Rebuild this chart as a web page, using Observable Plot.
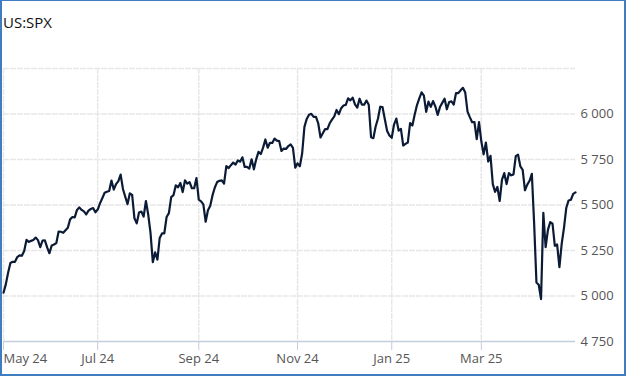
<!DOCTYPE html>
<html>
<head>
<meta charset="utf-8">
<script src="https://cdn.jsdelivr.net/npm/d3@7"></script>
<script src="https://cdn.jsdelivr.net/npm/@observablehq/plot@0.6"></script>
<style>
  html, body { margin: 0; padding: 0; background: #fff; }
  #wrap { position: relative; width: 626px; height: 376px; overflow: hidden; background: #fff; }
  #title { position: absolute; left: 3px; top: 12px; font-family: "Open Sans", sans-serif; font-size: 15px; color: #111; z-index: 2; }
  #frame { position: absolute; left: 0; top: 0; width: 626px; height: 376px; box-sizing: border-box; border: 2px solid #3f7cc0; border-top-width: 1px; pointer-events: none; z-index: 3; }
  #chart { position: absolute; left: 0; top: 0; }
</style>
</head>
<body>
<div id="wrap">
  <div id="title">US:SPX</div>
  <div id="chart"></div>
  <div id="frame"></div>
</div>
<script>
// Daily closes, one array per month (trading days)
const may24 = [5018,5064,5128,5181,5188,5188,5214,5223,5221,5247,5308,5297,5303,5308,5321,5307,5268,5305,5306,5267,5235,5278];
const jun24 = [5283,5291,5354,5353,5347,5361,5375,5421,5434,5432,5473,5487,5473,5465,5448,5469,5478,5483,5460];
const jul24 = [5475,5509,5537,5567,5573,5577,5634,5585,5615,5631,5667,5588,5545,5505,5564,5556,5427,5399,5459,5464,5436,5522];
const aug24 = [5447,5347,5186,5240,5200,5319,5344,5344,5434,5455,5543,5554,5608,5597,5621,5571,5635,5617,5626,5592,5592,5648];
const sep24 = [5529,5520,5503,5408,5471,5496,5554,5596,5626,5633,5635,5618,5714,5703,5719,5733,5722,5745,5738,5762];
const oct24 = [5709,5710,5700,5751,5696,5751,5792,5780,5815,5860,5815,5842,5841,5865,5854,5851,5797,5810,5808,5824,5833,5814,5705];
const nov24 = [5729,5713,5783,5929,5973,5996,6001,5984,5985,5949,5871,5894,5917,5917,5949,5969,5987,6022,5999,6032];
const dec24 = [6047,6050,6086,6075,6090,6053,6035,6084,6051,6051,6074,6051,5872,5867,5931,5974,6040,6038,5971,5907,5882];
const jan25 = [5869,5942,5975,5909,5918,5827,5836,5843,5950,5937,5997,6049,6086,6119,6101,6012,6068,6039,6071,6041];
const feb25 = [5995,6038,6061,6084,6026,6066,6069,6052,6115,6115,6130,6144,6118,6013,5983,5955,5956,5862,5955];
const mar25 = [5850,5778,5843,5739,5770,5615,5572,5599,5522,5639,5675,5615,5675,5663,5668,5768,5777,5712,5693,5581,5612];
const apr25 = [5633,5671,5397,5074,5062,4983,5457,5268,5363,5406,5397,5276,5283,5158,5288,5376,5485,5525,5529,5561,5569];

const monthLabels = ["May 24","Jun 24","Jul 24","Aug 24","Sep 24","Oct 24","Nov 24","Dec 24","Jan 25","Feb 25","Mar 25","Apr 25"];
const monthSeries = [may24, jun24, jul24, aug24, sep24, oct24, nov24, dec24, jan25, feb25, mar25, apr25];
const xTickLabels = ["May 24","Jul 24","Sep 24","Nov 24","Jan 25","Mar 25"];
const yTicks = [4750, 5000, 5250, 5500, 5750, 6000];
const yTop = 6250;

// Build table: trading-day index
const rows = [];
const monthStart = {};
monthSeries.forEach((arr, m) => {
  monthStart[monthLabels[m]] = rows.length;
  arr.forEach(v => rows.push({i: rows.length, close: v}));
});
const tickIdx = xTickLabels.map(l => monthStart[l]);
const labelOf = new Map(xTickLabels.map(l => [monthStart[l], l]));

const fmt = d3.formatLocale({decimal: ".", thousands: "\u00a0", grouping: [3], currency: ["", ""]}).format(",");

const gridColor = "#e7e7e7";
const axisColor = "#c3cddb";
const textColor = "#555";

const chart = Plot.plot({
  width: 626,
  height: 376,
  marginTop: 68,
  marginBottom: 35,
  marginLeft: 3,
  marginRight: 51,
  style: {fontFamily: "'Open Sans', sans-serif", fontSize: "13px", background: "transparent"},
  x: {type: "linear", domain: [0, rows.length - 1], axis: null, label: null},
  y: {domain: [yTicks[0], yTop], axis: null, label: null},
  marks: [
    Plot.gridY([...yTicks.slice(1), yTop], {stroke: gridColor, strokeOpacity: 1, strokeWidth: 1.5, strokeDasharray: "6,1"}),
    Plot.gridX(tickIdx, {stroke: gridColor, strokeOpacity: 1, strokeWidth: 1.5, strokeDasharray: "6,1"}),
    Plot.ruleY([yTicks[0]], {stroke: axisColor, strokeWidth: 1.5}),
    Plot.axisX(tickIdx, {anchor: "bottom", tickSize: 9, tickPadding: 3, stroke: axisColor, text: null, tickFormat: null, label: null}),
    Plot.axisX(tickIdx.slice(0, 1), {anchor: "bottom", tickSize: 0, tickPadding: 12, fill: textColor, textAnchor: "start", tickFormat: d => labelOf.get(d), label: null}),
    Plot.axisX(tickIdx.slice(1), {anchor: "bottom", tickSize: 0, tickPadding: 12, fill: textColor, tickFormat: d => labelOf.get(d), label: null}),
    Plot.axisY(yTicks, {anchor: "right", tickSize: 0, tickPadding: 5, fill: textColor, tickFormat: fmt, label: null}),
    Plot.lineY(rows, {x: "i", y: "close", stroke: "#0b1b36", strokeWidth: 2.2, strokeLinejoin: "round"})
  ]
});
document.getElementById("chart").appendChild(chart);
</script>
</body>
</html>
